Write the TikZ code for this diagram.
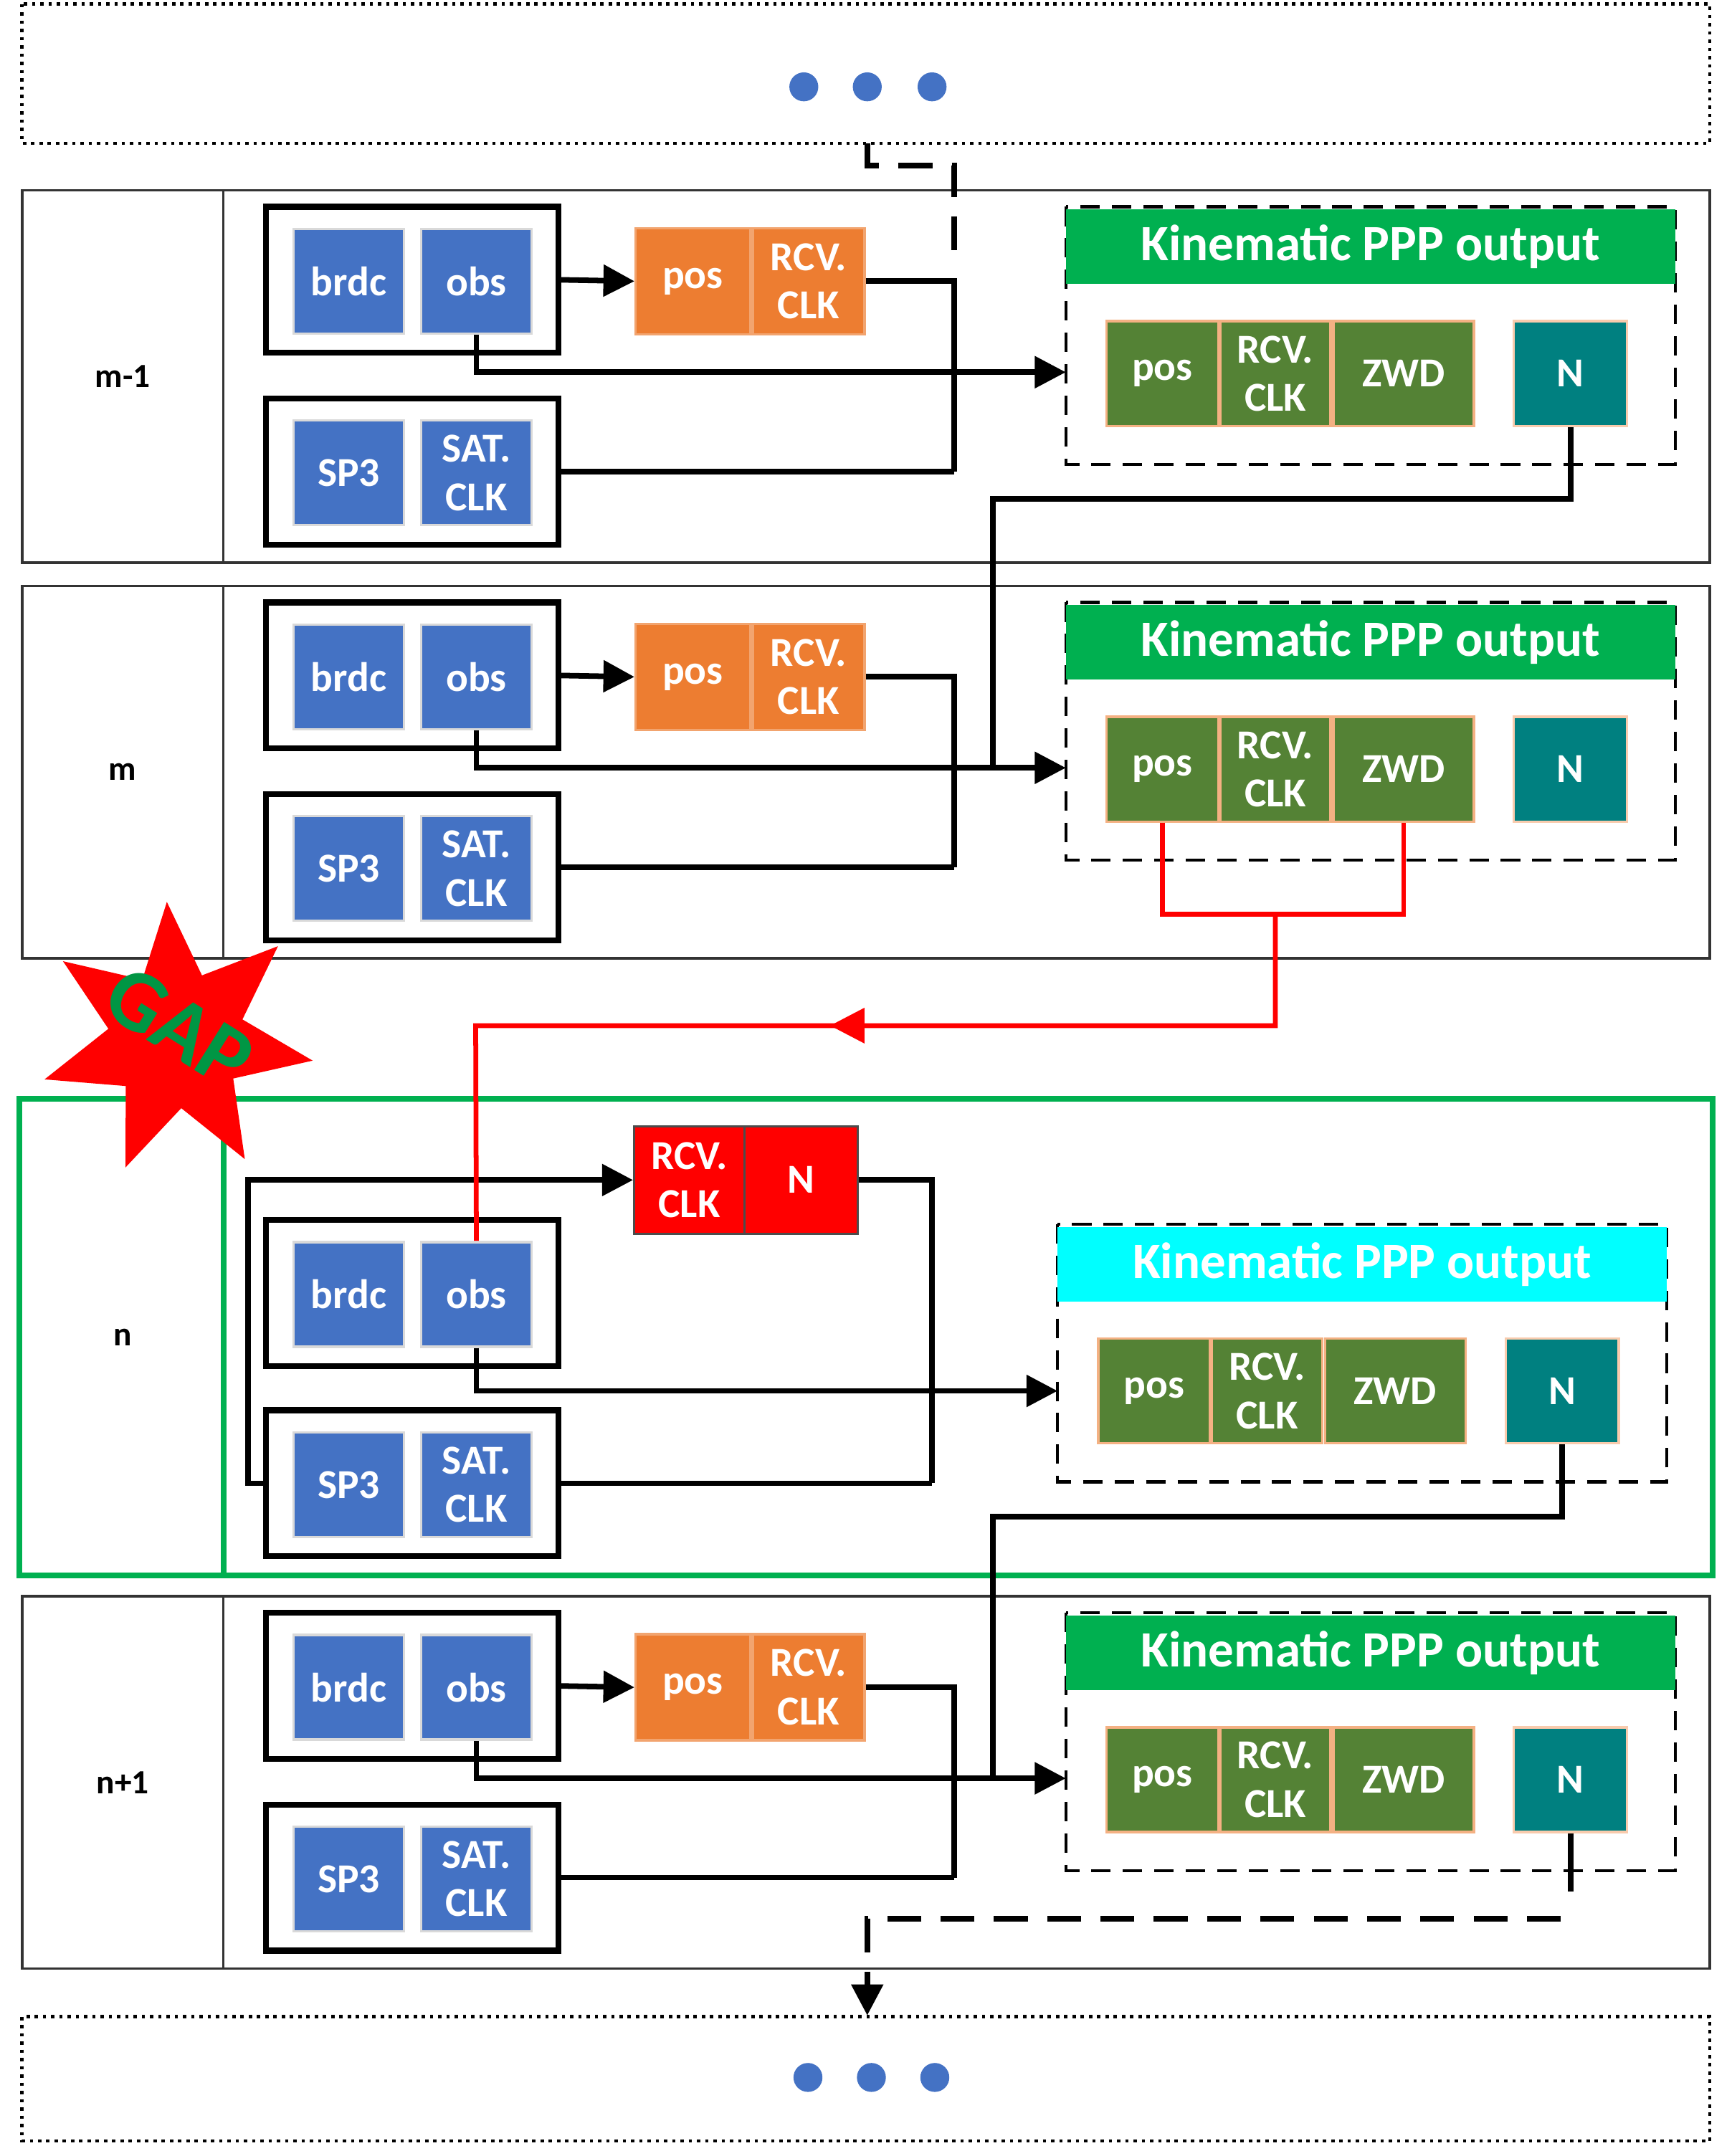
\documentclass[tikz,border=0pt]{standalone}
\usepackage{fontspec}
\setmainfont{Carlito}
\usetikzlibrary{arrows.meta,shapes.geometric}
\definecolor{cblue}{RGB}{68,114,196}
\definecolor{corange}{RGB}{237,125,49}
\definecolor{cgreen}{RGB}{0,176,80}
\definecolor{colive}{RGB}{84,130,53}
\definecolor{cteal}{RGB}{0,128,128}
\definecolor{ccyan}{RGB}{0,255,255}
\tikzset{
  blk/.style={draw=black!15,line width=1pt,text=white,font=\bfseries\fontsize{17}{20}\selectfont,align=center,minimum height=1.52cm,inner sep=0pt},
  bluebk/.style={blk,fill=cblue,minimum width=1.6cm},
  orbk/.style={blk,fill=corange,draw=corange!70,minimum height=1.54cm},
  olbk/.style={blk,fill=colive,draw=corange!60},
  outbox/.style={draw=black,line width=2.4pt,minimum width=4.24cm,minimum height=2.12cm,inner sep=0pt},
  frame/.style={draw=black!80,line width=1.1pt},
  conn/.style={line width=2.3pt,black},
  tip/.style={-{Triangle[length=0.45cm,width=0.45cm]}},
  lbl/.style={font=\bfseries\fontsize{14}{16}\selectfont},
  head/.style={minimum width=8.84cm,minimum height=1.08cm,inner sep=0pt,font=\bfseries\fontsize{21}{24}\selectfont},
  dot/.style={circle,fill=cblue,minimum size=0.42cm,inner sep=0pt}
}
% standard row: #1 y offset, #2 suffix, #3 label
\newcommand\stdrow[3]{
  \begin{scope}[shift={(0,#1)}]
    \draw[frame] (16,138) rectangle (1240,408);
    \draw[frame] (162,138) -- (162,408);
    \node[lbl] (lab#2) at (89,273) {#3};
    \node[outbox] (ob#2) at (299,203) {};
    \node[bluebk] (brdc#2) at (253,204) {brdc};
    \node[bluebk] (obs#2) at (345.5,204) {obs};
    \node[outbox] (sb#2) at (299,342) {};
    \node[bluebk] (sp#2) at (253,343) {SP3};
    \node[bluebk] (sat#2) at (345.5,343) {SAT.\\CLK};
    \node[orbk,minimum width=1.66cm] (pos#2) at (502.5,204) {pos};
    \node[orbk,minimum width=1.62cm] (rcv#2) at (586.5,204) {RCV.\\CLK};
    \coordinate (j#2) at (692,342);
    \coordinate (in#2) at (773,270);
    \draw[conn,tip] (ob#2.east) -- (pos#2.west);
    \draw[conn,tip] (obs#2.south) |- (in#2);
    \draw[conn] (rcv#2.east) -| (j#2);
    \draw[conn] (sb#2.east) -- (j#2);
  \end{scope}
}
% kinematic group: #1 suffix, #2 x0, #3 y0, #4 header colour
\newcommand\kinbody[4]{
  \begin{scope}[shift={(#2,#3)}]
    \draw[line width=1.3pt,dash pattern=on 8pt off 5pt] (0,0) rectangle (442,187);
    \node[head,fill=#4,text=white] (hd#1) at (221,29) {Kinematic PPP output};
    \node[olbk,minimum width=1.62cm] (kpos#1) at (70,121) {pos};
    \node[olbk,minimum width=1.6cm] (krcv#1) at (152,121) {RCV.\\CLK};
    \node[olbk,minimum width=2.04cm] (kzwd#1) at (245,121) {ZWD};
    \node[blk,fill=cteal,draw=corange!40,minimum width=1.64cm] (kn#1) at (366,121) {N};
  \end{scope}
}
\begin{document}
\begin{tikzpicture}[x=0.02cm,y=-0.02cm]
\useasboundingbox (0,0) rectangle (1256,1564);
% top and bottom continuation boxes
\draw[line width=1.4pt,dotted] (16,3) rectangle (1240,104);
\node[dot] (d1) at (583,63) {}; \node[dot] (d2) at (629,63) {}; \node[dot] (d3) at (676,63) {};
\draw[line width=1.4pt,dotted] (16,1463) rectangle (1240,1553);
\node[dot] (e1) at (586,1507) {}; \node[dot] (e2) at (632,1507) {}; \node[dot] (e3) at (678,1507) {};
\coordinate (topc) at (629,104);
\coordinate (botc) at (629,1462);

\stdrow{0}{a}{m-1}
\stdrow{287}{b}{m}
\stdrow{1020}{d}{n+1}
\kinbody{a}{773}{150}{cgreen}
\kinbody{b}{773}{437}{cgreen}
\kinbody{d}{773}{1170}{cgreen}

% row n
\draw[cgreen,line width=2.4pt] (14,797) rectangle (1242,1143);
\draw[cgreen,line width=2.4pt] (162,797) -- (162,1143);
\node[lbl] (labc) at (89,970) {n};
\node[outbox] (obc) at (299,938) {};
\node[bluebk] (brdcc) at (253,939) {brdc};
\node[bluebk] (obsc) at (345.5,939) {obs};
\node[outbox] (sbc) at (299,1076) {};
\node[bluebk] (spc) at (253,1077) {SP3};
\node[bluebk] (satc) at (345.5,1077) {SAT.\\CLK};
\node[blk,fill=red,draw=black!70,minimum width=1.6cm,minimum height=1.56cm] (rcvc) at (500,856) {RCV.\\CLK};
\node[blk,fill=red,draw=black!70,minimum width=1.64cm,minimum height=1.56cm] (nc) at (581,856) {N};
\kinbody{c}{767}{888}{ccyan}
\coordinate (lc) at (180,1076);
\coordinate (jc) at (676,1076);
\coordinate (inc) at (767,1009);
\draw[conn,tip] (sbc.west) -- (lc) |- (rcvc.west);
\draw[conn] (nc.east) -| (jc);
\draw[conn] (sbc.east) -- (jc);
\draw[conn,tip] (obsc.south) |- (inc);

% N feedback to next epoch
\coordinate (fa) at (720,557);
\draw[conn] (kna.south) |- (720,362) -- (fa);
\coordinate (fc) at (720,1290);
\draw[conn] (knc.south) |- (720,1100) -- (fc);

% continuation lines
\draw[line width=2.3pt,dash pattern=on 14pt off 8pt] (topc) -- (629,120) -| (692,185);
\draw[line width=2.3pt] (knd.south) -- (1139,1372);
\draw[line width=2.3pt,dash pattern=on 14pt off 8pt,-{Triangle[length=0.45cm,width=0.45cm]}] (1132,1392) -| (botc);

% red path from epoch m to epoch n
\coordinate (r1) at (925,663);
\coordinate (r2) at (925,744);
\coordinate (r3) at (345,744);
\draw[red,line width=2pt] (kposb.south) |- (r1) -| (kzwdb.south);
\draw[red,line width=2pt] (r1) -- (r2) -- (r3) -- (obsc.north);
\draw[red,line width=2pt,-{Triangle[length=0.5cm,width=0.5cm]}] (r2) -- (602,744);

% gap star
\node[star,star points=7,star point ratio=2.0,fill=red,minimum size=4.0cm,inner sep=0pt,rotate=4] (gap) at (128,754) {};
\node[text=cgreen!85!black,rotate=-32,font=\bfseries\fontsize{36}{38}\selectfont] (gapt) at (130,745) {GAP};
\end{tikzpicture}
\end{document}
